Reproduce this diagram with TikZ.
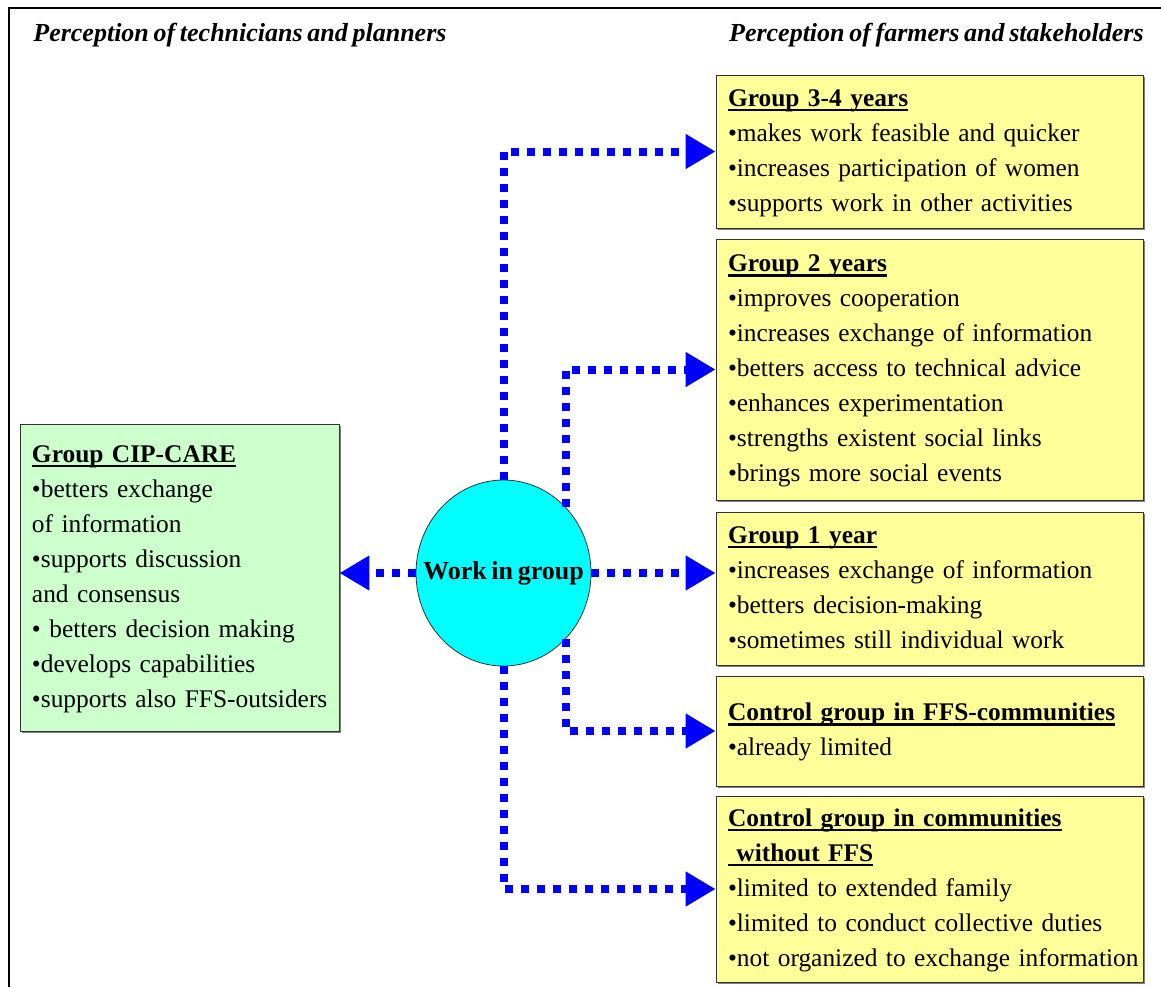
\documentclass[tikz,border=0pt]{standalone}
\usepackage{fontspec}
\setmainfont{Liberation Serif}[WordSpace=0.72]
\usetikzlibrary{shapes.geometric,arrows.meta,shadows}

\definecolor{boxyellow}{HTML}{FFFF99}
\definecolor{boxgreen}{HTML}{CCFFCC}
\definecolor{workcyan}{HTML}{00FFFF}
\newsavebox\headbox
\newcommand\grouphead[1]{\sbox\headbox{\bfseries #1}\rlap{\rule[-2.6pt]{\wd\headbox}{1.3pt}}\usebox\headbox}

\begin{document}
\begin{tikzpicture}[x=0.5pt,y=-0.5pt,
  every node/.style={font=\fontsize{12.7pt}{17.5pt}\selectfont},
  resultbox/.style={rectangle,draw=black!80,fill=boxyellow,inner xsep=6pt,inner ysep=0pt,
    text width=201.5pt,align=left,general shadow={fill=black!50,shadow xshift=0.8pt,shadow yshift=-0.8pt}},
  link/.style={draw=blue,line width=4pt,dash pattern=on 4pt off 4pt,-{Triangle[length=15pt,width=16.5pt]}},
  perception/.style={inner sep=0pt,font=\fontsize{13pt}{15pt}\selectfont\bfseries\itshape}]
\useasboundingbox (0,0) rectangle (1161,987);
\draw[line width=1.2pt] (9,987) -- (9,8) -- (1161,8);
\node[perception,anchor=base west] (lefthead) at (33,41) {Perception of technicians and planners};
\node[perception,anchor=base east] (righthead) at (1144,41) {Perception of farmers and stakeholders};

\node[resultbox,minimum height=76.5pt] (b1) at (929.5,151.5) {\begin{tabular}{@{}l@{}}
  \grouphead{Group 3-4 years}\\ •makes work feasible and quicker\\ •increases participation of women\\
  •supports work in other activities\end{tabular}};
\node[resultbox,minimum height=130.5pt] (b2) at (929.5,369.5) {\begin{tabular}{@{}l@{}}
  \grouphead{Group 2 years}\\ •improves cooperation\\ •increases exchange of information\\
  •betters access to technical advice\\ •enhances experimentation\\ •strengths existent social links\\
  •brings more social events\end{tabular}};
\node[resultbox,minimum height=76.5pt] (b3) at (929.5,588.5) {\begin{tabular}{@{}l@{}}
  \grouphead{Group 1 year}\\ •increases exchange of information\\ •betters decision-making\\
  •sometimes still individual work\end{tabular}};
\node[resultbox,minimum height=55pt] (b4) at (929.5,731) {\begin{tabular}{@{}l@{}}
  \grouphead{Control group in FFS-communities}\\ •already limited\end{tabular}};
\node[resultbox,minimum height=93pt] (b5) at (929.5,889) {\begin{tabular}{@{}l@{}}
  \grouphead{Control group in communities}\\ \grouphead{\ without FFS}\\ •limited to extended family\\
  •limited to conduct collective duties\\ •not organized to exchange information\end{tabular}};
\node[resultbox,fill=boxgreen,text width=147.5pt,minimum height=153.5pt] (cip) at (179.5,577.5)
  {\begin{tabular}{@{}l@{}}\grouphead{Group CIP-CARE}\\ •betters exchange\\ of information\\
  •supports discussion\\ and consensus\\ • betters decision making\\ •develops capabilities\\
  •supports also FFS-outsiders\end{tabular}};

\node[ellipse,draw=black!80,fill=workcyan,minimum width=87.5pt,minimum height=93pt,inner sep=0pt]
  (work) at (503.5,573) {};
\node[font=\fontsize{13pt}{15pt}\selectfont\bfseries,inner sep=0pt] (worktext) at (work.center) {Work in group};

\draw[link] (work.north) |- (b1.west);
\draw[link] (work.north east) |- (b2.west);
\draw[link] (work.east) -- (work.east -| b3.west);
\draw[link] (work.south east) |- (b4.west);
\draw[link] (work.south) |- (b5.west);
\draw[link] (work.west) -- (work.west -| cip.east);
\end{tikzpicture}
\end{document}
